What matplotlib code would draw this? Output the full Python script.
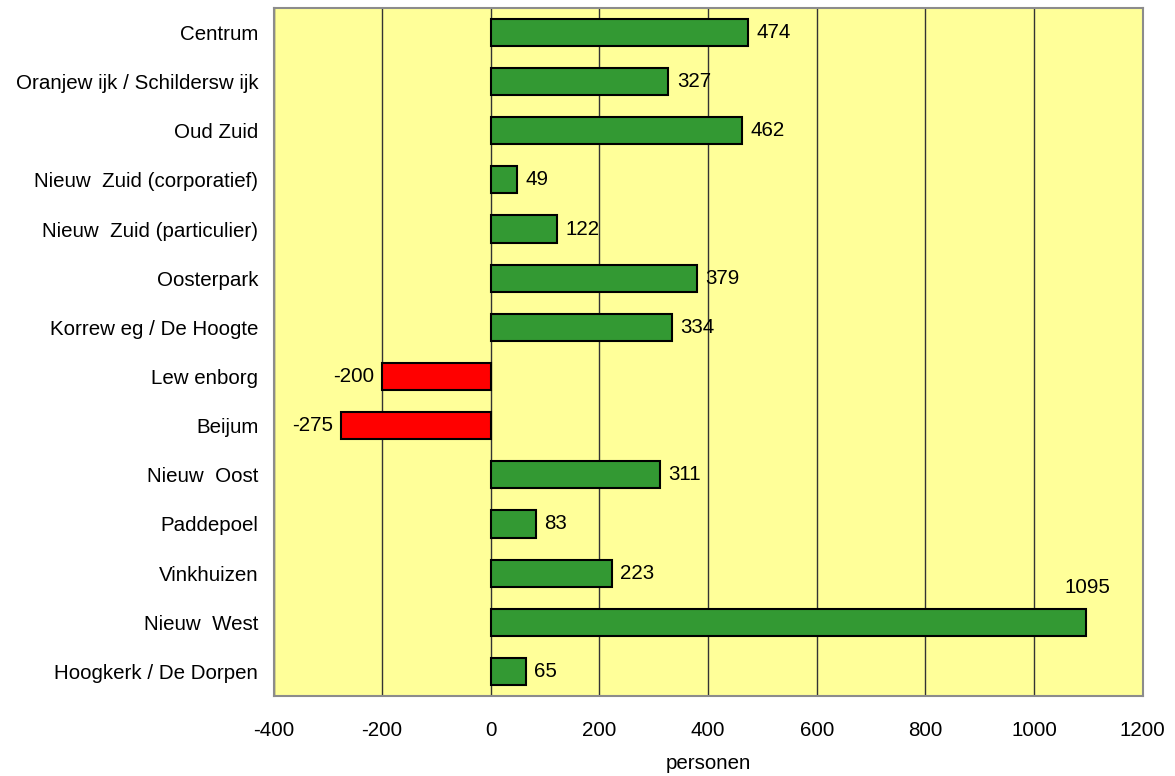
import matplotlib.pyplot as plt
import numpy as np

plt.rcParams["font.family"] = ["Liberation Sans", "DejaVu Sans"]

wijken = [
    "Centrum",
    "Oranjew ijk / Schildersw ijk",
    "Oud Zuid",
    "Nieuw  Zuid (corporatief)",
    "Nieuw  Zuid (particulier)",
    "Oosterpark",
    "Korrew eg / De Hoogte",
    "Lew enborg",
    "Beijum",
    "Nieuw  Oost",
    "Paddepoel",
    "Vinkhuizen",
    "Nieuw  West",
    "Hoogkerk / De Dorpen",
]
personen = [474, 327, 462, 49, 122, 379, 334, -200, -275, 311, 83, 223, 1095, 65]
xticks = [-400, -200, 0, 200, 400, 600, 800, 1000, 1200]

fs = 14.8

fig = plt.figure(figsize=(11.75, 7.76), dpi=100)
ax = fig.add_axes([0.2328, 0.103, 0.7397, 0.887])
ax.set_facecolor("#ffff99")

y = np.arange(len(wijken))
colors = ["#339933" if v >= 0 else "#ff0000" for v in personen]
ax.barh(y, personen, height=0.55, color=colors, edgecolor="black", linewidth=1.5, zorder=3)

for yi, v in zip(y, personen):
    if v == max(personen):
        # largest value sits above its bar
        ax.annotate(str(v), (v, yi), xytext=(1, 25), textcoords="offset points",
                    ha="center", va="center", fontsize=fs)
    elif v >= 0:
        ax.annotate(str(v), (v, yi), xytext=(6, 0), textcoords="offset points",
                    ha="left", va="center", fontsize=fs)
    else:
        ax.annotate(str(v), (v, yi), xytext=(-6, 0), textcoords="offset points",
                    ha="right", va="center", fontsize=fs)

ax.set_xlim(-400, 1200)
ax.set_ylim(len(wijken) - 0.5, -0.5)
ax.set_xticks(xticks)
ax.set_xticklabels([str(t) for t in xticks], fontsize=fs)
ax.set_yticks(y)
ax.set_yticklabels(wijken, fontsize=fs)
ax.tick_params(length=0)
ax.tick_params(axis="y", pad=11)
ax.tick_params(axis="x", pad=18)
ax.xaxis.grid(True, color="#333333", linewidth=1.0, zorder=1)
ax.set_axisbelow(True)
for s in ax.spines.values():
    s.set_color("#8c8c8c")
    s.set_linewidth(1.5)
ax.set_xlabel("personen", fontsize=fs, labelpad=10)

fig.savefig("out.png", dpi=100)
